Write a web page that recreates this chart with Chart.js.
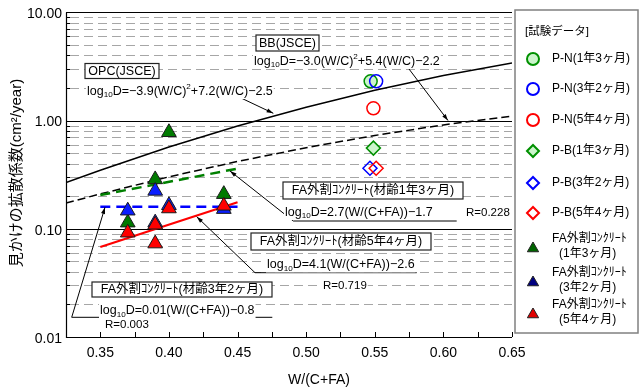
<!DOCTYPE html>
<html>
<head>
<meta charset="utf-8">
<script src="https://cdn.jsdelivr.net/npm/chart.js@4.4.0/dist/chart.umd.min.js"></script>
<style>
    html, body { margin: 0; padding: 0; background: #fff; }
    #wrap { width: 639px; height: 389px; position: relative; }
</style>
</head>
<body>
<div id="wrap"><canvas id="chart"></canvas></div>
<script>
// ---- data ----
var xTickLabels = [0.35, 0.40, 0.45, 0.50, 0.55, 0.60, 0.65];
var yTickLabels = [0.01, 0.1, 1, 10];

// JSCE curves
var jsceW = [0.325, 0.35, 0.40, 0.45, 0.50, 0.55, 0.60, 0.65];
var opcD = [0.268, 0.348, 0.570, 0.891, 1.33, 1.905, 2.61, 3.40];
var bbD = [0.173, 0.210, 0.302, 0.419, 0.562, 0.729, 0.912, 1.10];

// FA regression lines
var faLineW = [0.35, 0.45];
var fa13LineD = [0.205, 0.36];
var fa32LineD = [0.16, 0.16];
var fa54LineD = [0.068, 0.176];

// test data
var pn13W = [0.547], pn13D = [2.31];
var pn32W = [0.551], pn32D = [2.31];
var pn54W = [0.549], pn54D = [1.30];
var pb13W = [0.549], pb13D = [0.557];
var pb32W = [0.5465], pb32D = [0.363];
var pb54W = [0.551], pb54D = [0.363];
var fa13W = [0.37, 0.39, 0.40, 0.44], fa13D = [0.114, 0.286, 0.78, 0.209];
var fa32W = [0.37, 0.39, 0.39, 0.40, 0.44], fa32D = [0.147, 0.224, 0.114, 0.165, 0.152];
var fa54W = [0.37, 0.39, 0.39, 0.40, 0.44], fa54D = [0.092, 0.109, 0.073, 0.154, 0.163];

var LAT = '"Liberation Sans", "Noto Sans CJK JP", sans-serif';

function pts(xs, ys) {
    return xs.map(function (x, i) { return { x: x, y: ys[i] }; });
}

function lineSet(label, xs, ys, color, width, dash, order) {
    return {
        label: label, data: pts(xs, ys), showLine: true, pointRadius: 0,
        borderColor: color, borderWidth: width, borderDash: dash, fill: false, order: order
    };
}

function pointSet(label, xs, ys, style, radius, fillC, strokeC, bw, order) {
    return {
        label: label, data: pts(xs, ys), showLine: false, pointStyle: style,
        pointRadius: radius, pointBackgroundColor: fillC, pointBorderColor: strokeC,
        pointBorderWidth: bw, order: order
    };
}

var datasets = [
    lineSet('OPC(JSCE)', jsceW, opcD, '#000', 1.5, [], 20),
    lineSet('BB(JSCE)', jsceW, bbD, '#000', 1.5, [8, 4], 19),
    lineSet('FA 1y3m', faLineW, fa13LineD, '#008000', 2.5, [10, 6], 18),
    lineSet('FA 3y2m', faLineW, fa32LineD, '#0000ff', 2.5, [10, 6], 17),
    lineSet('FA 5y4m', faLineW, fa54LineD, '#ff0000', 2.2, [], 16),
    pointSet('P-N(1年3ヶ月)', pn13W, pn13D, 'circle', 6.5, '#ccf5cc', '#009000', 1.5, 9),
    pointSet('P-N(3年2ヶ月)', pn32W, pn32D, 'circle', 6.5, 'rgba(0,0,0,0)', '#0000ff', 1.5, 8),
    pointSet('P-N(5年4ヶ月)', pn54W, pn54D, 'circle', 6.5, 'rgba(0,0,0,0)', '#ff0000', 1.5, 7),
    pointSet('P-B(1年3ヶ月)', pb13W, pb13D, 'rectRot', 7, '#ccf5cc', '#009000', 1.5, 6),
    pointSet('P-B(3年2ヶ月)', pb32W, pb32D, 'rectRot', 7, 'rgba(0,0,0,0)', '#0000ff', 1.5, 5),
    pointSet('P-B(5年4ヶ月)', pb54W, pb54D, 'rectRot', 7, 'rgba(0,0,0,0)', '#ff0000', 1.5, 4),
    pointSet('FA(1年3ヶ月)', fa13W, fa13D, 'triangle', 8.5, '#007a00', '#1a1a1a', 1, 3),
    pointSet('FA(3年2ヶ月)', fa32W, fa32D, 'triangle', 8.5, '#0a1eff', '#1a1a1a', 1, 2),
    pointSet('FA(5年4ヶ月)', fa54W, fa54D, 'triangle', 8.5, '#ff0000', '#1a1a1a', 1, 1)
];

// legend entries (drawn by plugin)
var legendItems = [
    { text: ['P-N(1年3ヶ月)'], style: 'circle', r: 6, fill: '#ccf5cc', stroke: '#009000', bw: 2, y: 59 },
    { text: ['P-N(3年2ヶ月)'], style: 'circle', r: 6, fill: '#fff', stroke: '#0000ff', bw: 2, y: 89 },
    { text: ['P-N(5年4ヶ月)'], style: 'circle', r: 6, fill: '#fff', stroke: '#ff0000', bw: 2, y: 120 },
    { text: ['P-B(1年3ヶ月)'], style: 'rectRot', r: 6, fill: '#ccf5cc', stroke: '#009000', bw: 2, y: 151 },
    { text: ['P-B(3年2ヶ月)'], style: 'rectRot', r: 6, fill: '#fff', stroke: '#0000ff', bw: 2, y: 183 },
    { text: ['P-B(5年4ヶ月)'], style: 'rectRot', r: 6, fill: '#fff', stroke: '#ff0000', bw: 2, y: 213 },
    { text: ['FA外割ｺﾝｸﾘｰﾄ', '(1年3ヶ月)'], style: 'triangle', r: 6.5, fill: '#006400', stroke: '#222', bw: 1, y: 247 },
    { text: ['FA外割ｺﾝｸﾘｰﾄ', '(3年2ヶ月)'], style: 'triangle', r: 6.5, fill: '#000080', stroke: '#222', bw: 1, y: 281 },
    { text: ['FA外割ｺﾝｸﾘｰﾄ', '(5年4ヶ月)'], style: 'triangle', r: 6.5, fill: '#e00000', stroke: '#222', bw: 1, y: 313 }
];

function isDecade(v) {
    var l = Math.log10(v);
    return Math.abs(l - Math.round(l)) < 1e-6;
}

function drawMarker(ctx, style, r, x, y, bw) {
    if (Chart.helpers && Chart.helpers.drawPoint) {
        Chart.helpers.drawPoint(ctx, { pointStyle: style, radius: r, rotation: 0, borderWidth: bw }, x, y);
        return;
    }
    ctx.beginPath();
    if (style === 'circle') ctx.arc(x, y, r, 0, Math.PI * 2);
    else if (style === 'rectRot') { ctx.moveTo(x, y - r); ctx.lineTo(x + r, y); ctx.lineTo(x, y + r); ctx.lineTo(x - r, y); ctx.closePath(); }
    else { ctx.moveTo(x, y - r); ctx.lineTo(x + r * 0.866, y + r / 2); ctx.lineTo(x - r * 0.866, y + r / 2); ctx.closePath(); }
    ctx.fill();
    ctx.stroke();
}

// rich text: parts = [[text, mode]] mode 0 normal, -1 sub, 1 sup
function richWidth(ctx, parts, size) {
    var w = 0;
    parts.forEach(function (p) {
        ctx.font = (p[1] === 0 ? size : size * 0.65) + 'px ' + LAT;
        w += ctx.measureText(p[0]).width;
    });
    return w;
}
function drawRich(ctx, parts, x, y, size) {
    var w = richWidth(ctx, parts, size);
    ctx.fillStyle = '#fff';
    ctx.fillRect(x - 1, y - size * 0.6, w + 2, size * 1.2);
    ctx.fillStyle = '#000';
    ctx.textAlign = 'left';
    ctx.textBaseline = 'middle';
    var cx = x;
    parts.forEach(function (p) {
        var s = p[1] === 0 ? size : size * 0.65;
        ctx.font = s + 'px ' + LAT;
        var dy = p[1] === -1 ? size * 0.3 : (p[1] === 1 ? -size * 0.35 : 0);
        ctx.fillText(p[0], cx, y + dy);
        cx += ctx.measureText(p[0]).width;
    });
}

function leader(ctx, path) {
    ctx.strokeStyle = '#000';
    ctx.lineWidth = 1;
    ctx.setLineDash([]);
    ctx.beginPath();
    ctx.moveTo(path[0][0], path[0][1]);
    for (var i = 1; i < path.length; i++) ctx.lineTo(path[i][0], path[i][1]);
    ctx.stroke();
    var a = path[path.length - 2], b = path[path.length - 1];
    var ang = Math.atan2(b[1] - a[1], b[0] - a[0]);
    ctx.fillStyle = '#000';
    ctx.beginPath();
    ctx.moveTo(b[0], b[1]);
    ctx.lineTo(b[0] - 7 * Math.cos(ang - 0.3), b[1] - 7 * Math.sin(ang - 0.3));
    ctx.lineTo(b[0] - 7 * Math.cos(ang + 0.3), b[1] - 7 * Math.sin(ang + 0.3));
    ctx.closePath();
    ctx.fill();
}

function textBox(ctx, text, x, y, w, h, size) {
    ctx.fillStyle = '#fff';
    ctx.fillRect(x, y, w, h);
    ctx.strokeStyle = '#222';
    ctx.lineWidth = 1.2;
    ctx.setLineDash([]);
    ctx.strokeRect(x, y, w, h);
    ctx.fillStyle = '#000';
    ctx.font = size + 'px ' + LAT;
    ctx.textAlign = 'center';
    ctx.textBaseline = 'middle';
    ctx.fillText(text, x + w / 2, y + h / 2 + 0.5);
}

// grid, axes and inward tick marks
var framePlugin = {
    id: 'frame',
    beforeDatasetsDraw: function (chart) {
        var ctx = chart.ctx, a = chart.chartArea;
        var ys = chart.scales.y, xs = chart.scales.x;
        ctx.save();
        for (var e = -2; e <= 0; e++) {
            for (var m = 2; m <= 9; m++) {
                var py = Math.round(ys.getPixelForValue(m * Math.pow(10, e))) + 0.5;
                ctx.strokeStyle = '#a6a6a6';
                ctx.lineWidth = 1;
                ctx.setLineDash([9, 5]);
                ctx.beginPath();
                ctx.moveTo(a.left + 4, py);
                ctx.lineTo(a.right, py);
                ctx.stroke();
                ctx.setLineDash([]);
                ctx.strokeStyle = '#000';
                ctx.beginPath();
                ctx.moveTo(a.left, py);
                ctx.lineTo(a.left + 4, py);
                ctx.stroke();
            }
        }
        ctx.setLineDash([]);
        ctx.strokeStyle = '#000';
        ctx.lineWidth = 1;
        [0.1, 1, 10].forEach(function (v) {
            var py = Math.round(ys.getPixelForValue(v)) + 0.5;
            ctx.beginPath();
            ctx.moveTo(a.left, py);
            ctx.lineTo(a.right, py);
            ctx.stroke();
        });
        // axes
        ctx.lineWidth = 1.2;
        ctx.beginPath();
        ctx.moveTo(a.left + 0.5, a.top);
        ctx.lineTo(a.left + 0.5, a.bottom + 0.5);
        ctx.lineTo(a.right, a.bottom + 0.5);
        ctx.stroke();
        ctx.lineWidth = 1;
        for (var k = 0; k <= 13; k++) {
            var px = Math.round(xs.getPixelForValue(0.325 + k * 0.025)) + 0.5;
            ctx.beginPath();
            ctx.moveTo(px, a.bottom);
            ctx.lineTo(px, a.bottom - 5);
            ctx.stroke();
        }
        ctx.restore();
    },
    afterDraw: function (chart) {
        var ctx = chart.ctx;
        ctx.save();

        // annotation leaders
        leader(ctx, [[254, 67.7], [408, 67.7], [448, 120.5]]);
        leader(ctx, [[87, 98.3], [241.7, 98.3], [273.3, 113.3]]);
        leader(ctx, [[456.7, 221], [293.3, 221], [230, 171]]);
        leader(ctx, [[416.7, 272.7], [255, 272.7], [196.7, 216.7]]);
        leader(ctx, [[272.3, 317.3], [71.7, 317.3], [105, 207.3]]);

        // boxes
        textBox(ctx, 'BB(JSCE)', 256, 35, 63, 16, 12.5);
        textBox(ctx, 'OPC(JSCE)', 85, 63.5, 74, 15, 12.5);
        textBox(ctx, 'FA外割ｺﾝｸﾘｰﾄ(材齢1年3ヶ月)', 283, 182, 180, 17, 12.5);
        textBox(ctx, 'FA外割ｺﾝｸﾘｰﾄ(材齢5年4ヶ月)', 251, 233, 180, 17, 12.5);
        textBox(ctx, 'FA外割ｺﾝｸﾘｰﾄ(材齢3年2ヶ月)', 92, 282, 180, 15, 12.5);

        // equations
        drawRich(ctx, [['log', 0], ['10', -1], ['D=−3.0(W/C)', 0], ['2', 1], ['+5.4(W/C)−2.2', 0]], 254, 61.5, 12.5);
        drawRich(ctx, [['log', 0], ['10', -1], ['D=−3.9(W/C)', 0], ['2', 1], ['+7.2(W/C)−2.5', 0]], 87, 91.5, 12.5);
        drawRich(ctx, [['log', 0], ['10', -1], ['D=2.7(W/(C+FA))−1.7', 0]], 285, 212.5, 12.5);
        drawRich(ctx, [['log', 0], ['10', -1], ['D=4.1(W/(C+FA))−2.6', 0]], 267, 265, 12.5);
        drawRich(ctx, [['log', 0], ['10', -1], ['D=0.01(W/(C+FA))−0.8', 0]], 100, 311, 12.5);
        drawRich(ctx, [['R=0.228', 0]], 466, 212.5, 11.5);
        drawRich(ctx, [['R=0.719', 0]], 323, 285.5, 11.5);
        drawRich(ctx, [['R=0.003', 0]], 105, 325, 11.5);

        // axis titles
        ctx.fillStyle = '#000';
        ctx.textAlign = 'center';
        ctx.textBaseline = 'middle';
        ctx.font = '14px ' + LAT;
        ctx.fillText('W/(C+FA)', 319, 380);
        ctx.save();
        ctx.translate(17, 173);
        ctx.rotate(-Math.PI / 2);
        ctx.font = '15px ' + LAT;
        ctx.fillText('見かけの拡散係数(cm²/year)', 0, 0);
        ctx.restore();

        // legend box
        ctx.fillStyle = '#fff';
        ctx.fillRect(515, 10, 123, 323);
        ctx.strokeStyle = '#808080';
        ctx.lineWidth = 1.5;
        ctx.strokeRect(515, 10, 123, 323);
        ctx.fillStyle = '#000';
        ctx.textAlign = 'left';
        ctx.font = '11.5px ' + LAT;
        ctx.fillText('[試験データ]', 525, 32);
        legendItems.forEach(function (it) {
            ctx.fillStyle = it.fill;
            ctx.strokeStyle = it.stroke;
            ctx.lineWidth = it.bw;
            drawMarker(ctx, it.style, it.r, 533, it.style === 'triangle' ? it.y + 1.5 : it.y, it.bw);
            ctx.fillStyle = '#000';
            ctx.font = '12px ' + LAT;
            if (it.text.length === 1) {
                ctx.fillText(it.text[0], 552, it.y);
            } else {
                ctx.fillText(it.text[0], 552, it.y - 8);
                ctx.fillText(it.text[1], 559, it.y + 7);
            }
        });
        ctx.restore();
    }
};

new Chart(document.getElementById('chart'), {
    type: 'scatter',
    data: { datasets: datasets },
    options: {
        responsive: true,
        maintainAspectRatio: false,
        animation: false,
        events: [],
        layout: { padding: { left: 0, top: 10, right: 127, bottom: 0 } },
        plugins: { legend: { display: false }, tooltip: { enabled: false } },
        scales: {
            x: {
                type: 'linear', min: 0.325, max: 0.65,
                afterBuildTicks: function (s) { s.ticks = xTickLabels.map(function (v) { return { value: v }; }); },
                afterFit: function (s) { s.height = 52; },
                ticks: {
                    autoSkip: false, maxRotation: 0, padding: 8, color: '#000',
                    font: { family: LAT, size: 14 },
                    callback: function (v) { return Number(v).toFixed(2); }
                },
                grid: { display: false, drawTicks: false },
                border: { display: false }
            },
            y: {
                type: 'logarithmic', min: 0.01, max: 10,
                afterBuildTicks: function (s) { s.ticks = yTickLabels.map(function (v) { return { value: v }; }); },
                afterFit: function (s) { s.width = 66; },
                ticks: {
                    autoSkip: false, padding: 4, color: '#000', labelOffset: 2,
                    font: { family: LAT, size: 14 },
                    callback: function (v) { return isDecade(v) ? Number(v).toFixed(2) : ''; }
                },
                grid: { display: false, drawTicks: false },
                border: { display: false }
            }
        }
    },
    plugins: [framePlugin]
});
</script>
</body>
</html>
